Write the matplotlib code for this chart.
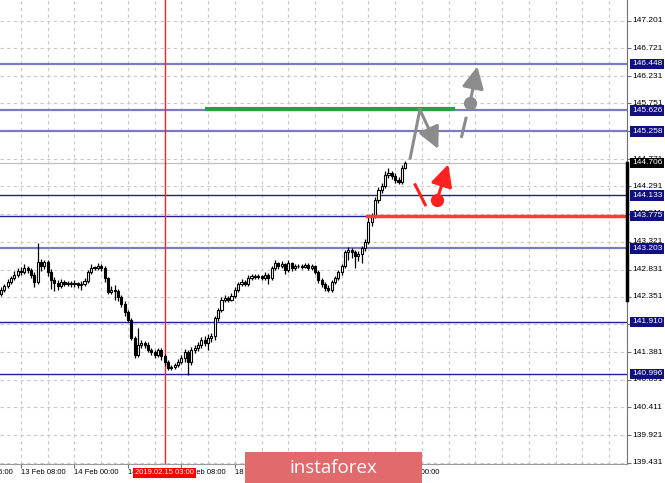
import matplotlib
matplotlib.use("Agg")
import matplotlib.pyplot as plt
from matplotlib.patches import Rectangle

# hourly candles, 12 Feb 16:00 -> 20 Feb 03:00 (bar index on x axis)
opens = [142.40, 142.47, 142.54, 142.61, 142.68, 142.74, 142.80, 142.79, 142.86, 142.82,
         142.74, 142.61, 142.96, 142.89, 142.96, 142.79, 142.65, 142.59, 142.54, 142.61,
         142.58, 142.59, 142.58, 142.59, 142.56, 142.58, 142.63, 142.79, 142.86, 142.86,
         142.89, 142.86, 142.68, 142.44, 142.47, 142.45, 142.35, 142.23, 142.09, 141.94,
         141.63, 141.33, 141.51, 141.54, 141.51, 141.42, 141.38, 141.33, 141.42, 141.31,
         141.21, 141.10, 141.12, 141.15, 141.21, 141.28, 141.38, 141.21, 141.42, 141.45,
         141.51, 141.59, 141.54, 141.63, 141.66, 141.98, 142.12, 142.30, 142.33, 142.30,
         142.37, 142.47, 142.58, 142.61, 142.58, 142.68, 142.72, 142.70, 142.72, 142.68,
         142.74, 142.68, 142.86, 142.95, 142.89, 142.93, 142.82, 142.95, 142.86, 142.89,
         142.89, 142.88, 142.91, 142.86, 142.89, 142.79, 142.65, 142.58, 142.51, 142.47,
         142.61, 142.68, 142.79, 142.89, 143.14, 143.17, 143.14, 143.07, 143.10, 143.21,
         143.32, 143.67, 143.77, 144.05, 144.23, 144.30, 144.49, 144.53, 144.48, 144.41,
         144.37, 144.62]
highs = [142.52, 142.58, 142.66, 142.72, 142.80, 142.86, 142.88, 142.92, 142.90, 142.85,
         142.78, 143.30, 143.02, 143.00, 142.99, 142.84, 142.70, 142.64, 142.66, 142.64,
         142.63, 142.63, 142.64, 142.62, 142.63, 142.68, 142.83, 142.92, 142.90, 142.94,
         142.92, 142.89, 142.70, 142.54, 142.56, 142.48, 142.38, 142.27, 142.12, 141.98,
         141.66, 141.80, 141.60, 141.58, 141.55, 141.46, 141.42, 141.46, 141.45, 141.34,
         141.24, 141.16, 141.19, 141.25, 141.33, 141.44, 141.42, 141.47, 141.50, 141.56,
         141.64, 141.66, 141.70, 141.72, 142.02, 142.16, 142.35, 142.38, 142.37, 142.42,
         142.52, 142.62, 142.66, 142.65, 142.73, 142.76, 142.75, 142.76, 142.74, 142.78,
         142.77, 142.90, 142.99, 142.97, 142.98, 142.95, 142.99, 142.97, 142.93, 142.93,
         142.92, 142.95, 142.94, 142.93, 142.91, 142.82, 142.68, 142.61, 142.56, 142.65,
         142.72, 142.83, 142.93, 143.18, 143.22, 143.21, 143.18, 143.16, 143.25, 143.36,
         143.78, 143.82, 144.10, 144.28, 144.36, 144.56, 144.62, 144.57, 144.52, 144.45,
         144.66, 144.74]
lows = [142.36, 142.43, 142.50, 142.58, 142.65, 142.70, 142.74, 142.76, 142.77, 142.68,
        142.52, 142.58, 142.80, 142.84, 142.72, 142.48, 142.46, 142.47, 142.50, 142.54,
        142.54, 142.52, 142.53, 142.50, 142.47, 142.55, 142.60, 142.76, 142.82, 142.83,
        142.80, 142.62, 142.40, 142.40, 142.30, 142.28, 142.18, 142.02, 141.90, 141.60,
        141.28, 141.30, 141.46, 141.45, 141.38, 141.33, 141.28, 141.30, 141.24, 141.14,
        141.06, 141.06, 141.08, 141.12, 141.17, 141.20, 140.98, 141.15, 141.36, 141.40,
        141.46, 141.48, 141.42, 141.55, 141.60, 141.92, 142.08, 142.26, 142.26, 142.27,
        142.33, 142.43, 142.55, 142.54, 142.55, 142.64, 142.66, 142.67, 142.64, 142.64,
        142.58, 142.65, 142.82, 142.84, 142.85, 142.76, 142.79, 142.81, 142.83, 142.85,
        142.84, 142.85, 142.82, 142.83, 142.75, 142.60, 142.52, 142.46, 142.43, 142.44,
        142.57, 142.64, 142.74, 142.86, 142.99, 143.03, 142.86, 142.98, 142.95, 143.16,
        143.28, 143.60, 143.74, 144.00, 144.18, 144.26, 144.44, 144.43, 144.36, 144.33,
        144.34, 144.60]
closes = [142.47, 142.54, 142.61, 142.68, 142.74, 142.80, 142.79, 142.86, 142.82, 142.74,
          142.61, 142.96, 142.89, 142.96, 142.79, 142.65, 142.59, 142.54, 142.61, 142.58,
          142.59, 142.58, 142.59, 142.56, 142.58, 142.63, 142.79, 142.86, 142.86, 142.89,
          142.86, 142.68, 142.44, 142.47, 142.45, 142.35, 142.23, 142.09, 141.94, 141.63,
          141.33, 141.51, 141.54, 141.51, 141.42, 141.38, 141.33, 141.42, 141.31, 141.21,
          141.10, 141.12, 141.15, 141.21, 141.28, 141.38, 141.21, 141.42, 141.45, 141.51,
          141.59, 141.54, 141.63, 141.66, 141.98, 142.12, 142.30, 142.33, 142.30, 142.37,
          142.47, 142.58, 142.61, 142.58, 142.68, 142.72, 142.70, 142.72, 142.68, 142.74,
          142.68, 142.86, 142.95, 142.89, 142.93, 142.82, 142.95, 142.86, 142.89, 142.89,
          142.88, 142.91, 142.86, 142.89, 142.79, 142.65, 142.58, 142.51, 142.47, 142.61,
          142.68, 142.79, 142.89, 143.14, 143.17, 143.14, 143.07, 143.10, 143.21, 143.32,
          143.67, 143.77, 144.05, 144.23, 144.30, 144.49, 144.53, 144.48, 144.41, 144.37,
          144.62, 144.70]

# price scale labels on the right
price_ticks = [147.201, 146.721, 146.231, 145.751, 145.261, 144.771, 144.291, 143.811, 143.321,
               142.831, 142.351, 141.871, 141.381, 140.891, 140.411, 139.921, 139.431]

# time labels (bar index, text)
time_bars = [-10, 6, 22, 38, 54, 70, 86, 102, 118]
time_labels = ["12 Feb 16:00", "13 Feb 08:00", "14 Feb 00:00", "14 Feb 16:00", "15 Feb 08:00",
               "18 Feb 00:00", "18 Feb 16:00", "19 Feb 08:00", "20 Feb 00:00"]

# horizontal levels drawn on the chart
levels = [146.448, 145.626, 145.258, 144.133, 143.775, 143.203, 141.910, 140.996]
level_light = [True, True, True, False, False, True, False, False]
current_price = 144.706

# vertical marker
marker_bar = 49
marker_label = "2019.02.15 03:00"

# forecast drawings (bar index, price)
green_bars = [61.1, 135.9]
green_price = 145.66
red_line_start = 109.6
gray_path_bars = [122.5, 125.4, 130.9]
gray_path_prices = [144.79, 145.64, 144.95]
gray_dash_bars = [137.9, 139.2]
gray_dash_prices = [145.17, 145.49]
gray_dot = (140.4, 145.76)
gray_arrow_end = (142.6, 146.40)
red_dash_bars = [124.0, 127.0]
red_dash_prices = [144.32, 143.97]
red_dot = (130.5, 144.05)
red_arrow_end = (133.9, 144.68)

W, H = 665, 483
fig = plt.figure(figsize=(W / 100, H / 100), dpi=100)
ax = fig.add_axes([0, 19 / H, 627 / W, 464 / H])
ax.set_xlim(-0.3, 187.4)
ax.set_ylim(139.413, 147.568)

# grid
for p in price_ticks:
    ax.axhline(p, color="#c8c8c8", lw=0.8, ls=(0, (3, 3)), zorder=0)
for b in range(6, 188, 8):
    ax.axvline(b, color="#c8c8c8", lw=0.8, ls=(0, (3, 3)), zorder=0)

# level lines
for lv, light in zip(levels, level_light):
    if light:
        ax.axhline(lv, color="#7b7bc0", lw=1.6, zorder=1)
    else:
        ax.axhline(lv, color="#1f1f99", lw=1.0, zorder=1)
ax.axhline(current_price, color="#c0c0c0", lw=0.9, zorder=1)

ax.axvline(marker_bar, color="#ff2020", lw=1.0, zorder=1)

# candles
for i in range(len(closes)):
    o, h, l, c = opens[i], highs[i], lows[i], closes[i]
    ax.vlines(i, l, h, color="black", lw=0.9, zorder=3)
    bottom = min(o, c)
    height = max(abs(c - o), 0.008)
    if c >= o:
        ax.bar(i, height, 0.62, bottom=bottom, color="white", edgecolor="black", lw=0.8, zorder=4)
    else:
        ax.bar(i, height, 0.62, bottom=bottom, color="black", edgecolor="black", lw=0.8, zorder=4)

# drawings
ax.plot(green_bars, [green_price, green_price], color="#23a04a", lw=3, solid_capstyle="butt", zorder=5)
ax.plot([red_line_start, 187.4], [levels[4], levels[4]], color="#ff3b3b", lw=2.5, zorder=5)

head = "-|>,head_length=1.1,head_width=0.55"
gray = "#8c8c8c"
ax.plot(gray_path_bars[:2], gray_path_prices[:2], color=gray, lw=2.2, zorder=6)
ax.annotate("", xy=(gray_path_bars[2], gray_path_prices[2]),
            xytext=(gray_path_bars[1], gray_path_prices[1]),
            arrowprops=dict(arrowstyle=head, color=gray, lw=2.2,
                            shrinkA=0, shrinkB=0, mutation_scale=12), zorder=6)
ax.plot(gray_dash_bars, gray_dash_prices, color=gray, lw=2.2, zorder=6)
ax.plot(*gray_dot, "o", color=gray, ms=8.5, zorder=6)
ax.annotate("", xy=gray_arrow_end, xytext=gray_dot,
            arrowprops=dict(arrowstyle=head, color=gray, lw=2.2,
                            shrinkA=0, shrinkB=0, mutation_scale=12), zorder=6)

red = "#ff2020"
ax.plot(red_dash_bars, red_dash_prices, color=red, lw=2.2, zorder=6)
ax.plot(*red_dot, "o", color=red, ms=8.5, zorder=6)
ax.annotate("", xy=red_arrow_end, xytext=red_dot,
            arrowprops=dict(arrowstyle=head, color=red, lw=2.2,
                            shrinkA=0, shrinkB=0, mutation_scale=12), zorder=6)

# axes frame
for side in ["left", "top"]:
    ax.spines[side].set_visible(False)
ax.spines["right"].set_color("#707070")
ax.spines["bottom"].set_color("#9a9a9a")
ax.set_yticks(price_ticks)
ax.set_xticks([b for b in time_bars if b >= 0])
ax.tick_params(axis="y", left=False, right=True, labelleft=False, length=3, color="#707070")
ax.tick_params(axis="x", bottom=True, labelbottom=False, length=3, color="#707070")

font = "Liberation Sans"
for p in price_ticks:
    ax.annotate(f"{p:.3f}", xy=(1, p), xycoords=("axes fraction", "data"), xytext=(5, 0),
                textcoords="offset pixels", va="center", ha="left", fontsize=6, family=font,
                annotation_clip=False, zorder=7)

# boxed level labels
for lv in levels:
    ax.annotate(f"{lv:.3f}", xy=(1, lv), xycoords=("axes fraction", "data"), xytext=(5, 0),
                textcoords="offset pixels", va="center", ha="left", fontsize=6, family=font,
                color="white", annotation_clip=False, zorder=8,
                bbox=dict(boxstyle="square,pad=0.2", fc="#101080", ec="none"))
ax.annotate(f"{current_price:.3f}", xy=(1, current_price), xycoords=("axes fraction", "data"),
            xytext=(5, 0), textcoords="offset pixels", va="center", ha="left", fontsize=6,
            family=font, color="white", annotation_clip=False, zorder=9,
            bbox=dict(boxstyle="square,pad=0.2", fc="black", ec="none"))
ax.plot([1, 1], [142.30, current_price], transform=ax.get_yaxis_transform(), color="black",
        lw=2.5, clip_on=False, zorder=9)

# time labels
for b, t in zip(time_bars, time_labels):
    ax.annotate(t, xy=(b, 0), xycoords=("data", "axes fraction"), xytext=(0, -9),
                textcoords="offset pixels", va="center", ha="left", fontsize=5.5, family=font,
                annotation_clip=False)
ax.annotate(marker_label, xy=(marker_bar, 0), xycoords=("data", "axes fraction"), xytext=(0, -9),
            textcoords="offset pixels", va="center", ha="center", fontsize=5.5, family=font,
            color="white", annotation_clip=False, zorder=10,
            bbox=dict(boxstyle="square,pad=0.25", fc="#ff0000", ec="none"))

# watermark
fig.patches.append(Rectangle((245 / W, 0), 177 / W, 31 / H, transform=fig.transFigure,
                             facecolor="#e16a6d", edgecolor="none", zorder=20))
fig.text(333 / W, 15 / H, "instaforex", color="white", fontsize=13.5, family="Open Sans",
         ha="center", va="center", zorder=21)

fig.savefig("out.png", dpi=100)
